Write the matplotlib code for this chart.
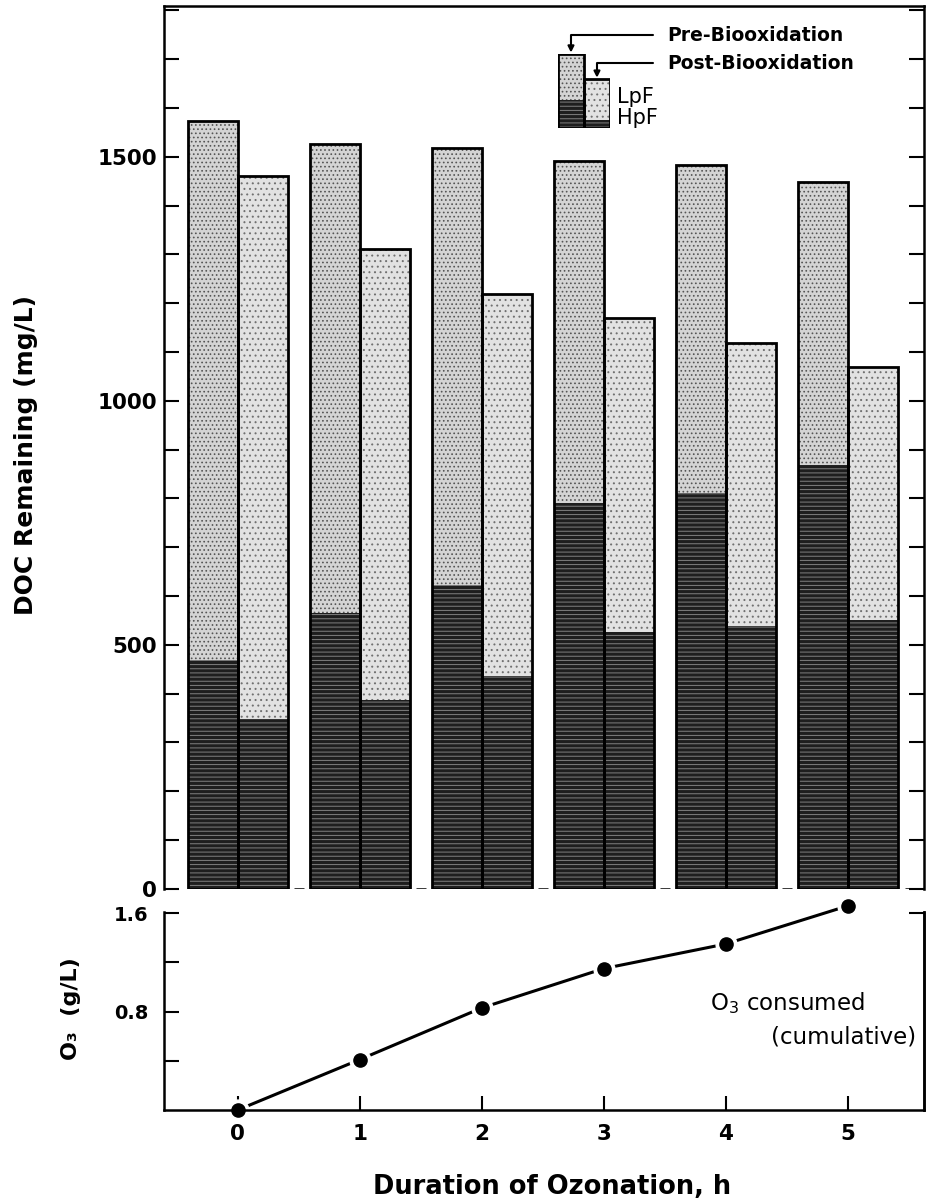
import numpy as np
import matplotlib
matplotlib.use("Agg")
import matplotlib.pyplot as plt
from matplotlib.ticker import MultipleLocator, FixedLocator, NullFormatter

# values (DOC in mg/L, O3 in g/L)
hours = [0, 1, 2, 3, 4, 5]
pre_total = [1574, 1526, 1519, 1492, 1484, 1449]
pre_hpf = [469, 566, 622, 790, 811, 868]
post_total = [1460, 1311, 1219, 1170, 1118, 1070]
post_hpf = [347, 387, 436, 526, 538, 551]
o3_consumed = [0.0, 0.41, 0.83, 1.15, 1.35, 1.66]

# sample bars for the key (fraction of the key box)
key_total = [1.0, 0.66]
key_hpf = [0.38, 0.11]

plt.rcParams['font.family'] = 'DejaVu Sans'
plt.rcParams['hatch.linewidth'] = 0.7

W, H = 927, 1204
fig = plt.figure(figsize=(W / 100, H / 100), dpi=100)
ax = fig.add_axes([164 / W, 1 - 888.7 / H, 760 / W, 882.7 / H])
ax2 = fig.add_axes([164 / W, 1 - 1110 / H, 760 / W, 198 / H])

x = np.array(hours, dtype=float)
bw = 0.41

dark = dict(color='#1e1e1e', edgecolor='#808080', hatch='----', linewidth=0)
light_pre = dict(color='#d4d4d4', edgecolor='#555555', hatch='....', linewidth=0)
light_post = dict(color='#e2e2e2', edgecolor='#707070', hatch='...', linewidth=0)

def draw_pair(a, xs, tot1, hp1, tot2, hp2, w):
    l1 = np.array(tot1) - np.array(hp1)
    l2 = np.array(tot2) - np.array(hp2)
    a.bar(xs - w / 2, hp1, width=w, **dark)
    a.bar(xs - w / 2, l1, bottom=hp1, width=w, **light_pre)
    a.bar(xs + w / 2, hp2, width=w, **dark)
    a.bar(xs + w / 2, l2, bottom=hp2, width=w, **light_post)
    a.bar(xs - w / 2, tot1, width=w, fill=False, edgecolor='black', linewidth=2.0)
    a.bar(xs + w / 2, tot2, width=w, fill=False, edgecolor='black', linewidth=2.0)

draw_pair(ax, x, pre_total, pre_hpf, post_total, post_hpf, bw)

ax.set_xlim(-0.604, 5.625)
ax.set_ylim(0, 1809)
ax.yaxis.set_major_locator(MultipleLocator(500))
ax.yaxis.set_minor_locator(MultipleLocator(100))
ax.tick_params(axis='y', which='both', direction='in', left=True, right=True,
               length=11, width=1.5)
ax.tick_params(axis='y', which='major', labelsize=15.5, pad=5)
ax.set_xticks([])
for lab in ax.get_yticklabels():
    lab.set_fontweight('bold')
for s in ['left', 'right', 'top']:
    ax.spines[s].set_linewidth(1.8)
ax.spines['bottom'].set_visible(False)

# broken baseline: short dashes between the groups and at both ends
gaps = (x[:-1] + x[1:]) / 2
ax.hlines(np.zeros(len(gaps)), gaps - 0.04, gaps + 0.04, color='black', lw=1.8)
ax.hlines([0, 0], [-0.604, 5.47], [-0.49, 5.625], color='black', lw=1.8)

# key
key = ax.inset_axes([0.5184, 0.8618, 0.0684, 0.0838])
draw_pair(key, np.array([0.5]), [key_total[0]], [key_hpf[0]],
          [key_total[1]], [key_hpf[1]], 1.0)
key.set_xlim(-0.5, 1.5)
key.set_ylim(0, 1)
key.axis('off')
arrow = dict(arrowstyle='-|>', color='black', lw=1.5, mutation_scale=9,
             connectionstyle='angle,angleA=0,angleB=90,rad=0', shrinkA=8, shrinkB=1)
ax.annotate('Pre-Biooxidation', xy=(0, 1.0), xycoords=key.transData,
            xytext=(0.662, 0.967), textcoords='axes fraction', ha='left', va='center',
            fontsize=13.5, fontweight='bold', arrowprops=arrow, annotation_clip=False)
ax.annotate('Post-Biooxidation', xy=(1, key_total[1]), xycoords=key.transData,
            xytext=(0.662, 0.935), textcoords='axes fraction', ha='left', va='center',
            fontsize=13.5, fontweight='bold', arrowprops=arrow, annotation_clip=False)
ax.text(0.596, 0.897, 'LpF', transform=ax.transAxes, ha='left', va='center', fontsize=15)
ax.text(0.596, 0.873, 'HpF', transform=ax.transAxes, ha='left', va='center', fontsize=15)

fig.text(26 / W, 1 - 455 / H, 'DOC Remaining (mg/L)', rotation=90, ha='center',
         va='center', fontsize=18, fontweight='bold')

# ozone panel
ax2.plot(hours, o3_consumed, color='black', lw=2.2, zorder=2, clip_on=False)
ax2.plot(hours, o3_consumed, 'o', color='white', ms=15, zorder=2.2, clip_on=False)
ax2.plot(hours, o3_consumed, 'o', color='black', ms=9.5, zorder=3, clip_on=False)
ax2.set_xlim(-0.604, 5.625)
ax2.set_ylim(0, 1.61)
ax2.set_xticks(hours)
ax2.set_xticklabels([str(h) for h in hours], fontsize=15.5, fontweight='bold')
ax2.yaxis.set_major_locator(FixedLocator([0.4, 0.8, 1.2, 1.6]))
ax2.set_yticklabels(['', '0.8', '', '1.6'], fontsize=14, fontweight='bold')
ax2.tick_params(axis='x', direction='in', length=10, width=1.5, pad=10)
ax2.tick_params(axis='y', direction='in', length=11, width=1.5, pad=11)
ax2.spines['top'].set_visible(False)
for s in ['left', 'right', 'bottom']:
    ax2.spines[s].set_linewidth(1.8)
sec = ax2.secondary_yaxis('right')
sec.set_yticks([1.6])
sec.yaxis.set_major_formatter(NullFormatter())
sec.tick_params(direction='in', length=11, width=1.5)
sec.spines['right'].set_linewidth(1.8)

ax2.text(0.718, 0.54, 'O$_3$ consumed', transform=ax2.transAxes, ha='left',
         va='center', fontsize=16.5)
ax2.text(0.99, 0.369, '(cumulative)', transform=ax2.transAxes, ha='right',
         va='center', fontsize=16.5)

fig.text(71 / W, 1 - 1009 / H, 'O₃  (g/L)', rotation=90, ha='center',
         va='center', fontsize=16, fontweight='bold')
fig.text(552 / W, 1 - 1187 / H, 'Duration of Ozonation, h', ha='center',
         va='center', fontsize=18.5, fontweight='bold')

fig.savefig('out.png', dpi=100)
